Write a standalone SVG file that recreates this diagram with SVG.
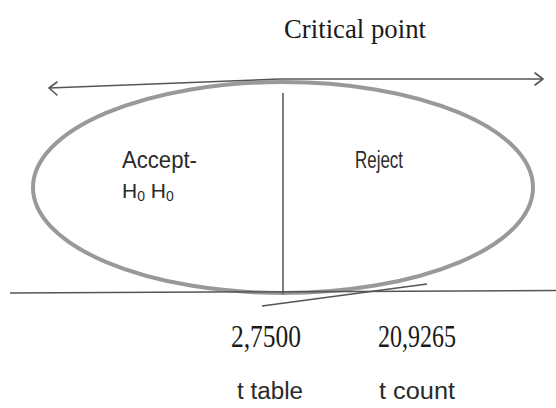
<svg xmlns="http://www.w3.org/2000/svg" width="556" height="408" viewBox="0 0 556 408">
<defs>
<style>
.serif{font-family:"Liberation Serif","Times New Roman",serif;fill:#1a1a1a}
.sans{font-family:"Liberation Sans",Arial,sans-serif;fill:#2a2a2a}
.ln{stroke:#555;stroke-width:1.5;fill:none}
.arrow{stroke:#555;stroke-width:1.6;fill:none;stroke-linecap:round;stroke-linejoin:round}
</style>
</defs>
<rect width="556" height="408" fill="#fff"/>
<g id="title"><text class="serif" x="284" y="38" font-size="27" textLength="142" lengthAdjust="spacingAndGlyphs">Critical point</text></g>
<g id="region">
<ellipse cx="283" cy="187.5" rx="250" ry="105.5" fill="none" stroke="#999" stroke-width="4"/>
</g>
<g id="connectors">
<polyline class="ln" points="49,88 280,79 543,79"/>
<polyline class="arrow" points="57,82 49,88 57,95"/>
<polyline class="arrow" points="535,73 543,79 535,85"/>
<line class="ln" x1="283" y1="93" x2="283" y2="294" stroke-width="1.2"/>
<line class="ln" x1="10" y1="293" x2="556" y2="290.5" stroke-width="1.4"/>
<line class="ln" x1="262" y1="306" x2="427" y2="284" stroke-width="1.4"/>
</g>
<g id="accept"><text class="sans" x="122" y="168" font-size="23" textLength="75" lengthAdjust="spacingAndGlyphs">Accept-</text>
<text class="sans" x="122" y="198" font-size="21">H<tspan font-size="14" dy="3">0</tspan><tspan dy="-3"> H</tspan><tspan font-size="14" dy="3">0</tspan></text></g>
<g id="reject"><text class="sans" x="355" y="168" font-size="23" textLength="48" lengthAdjust="spacingAndGlyphs">Reject</text></g>
<g id="ttable"><text class="serif" x="231" y="347" font-size="31" textLength="70" lengthAdjust="spacingAndGlyphs">2,7500</text>
<text class="sans" x="237" y="399" font-size="23" textLength="66" lengthAdjust="spacingAndGlyphs">t table</text></g>
<g id="tcount"><text class="serif" x="378" y="347" font-size="31" textLength="78" lengthAdjust="spacingAndGlyphs">20,9265</text>
<text class="sans" x="379" y="399" font-size="23" textLength="76" lengthAdjust="spacingAndGlyphs">t count</text></g>
</svg>
